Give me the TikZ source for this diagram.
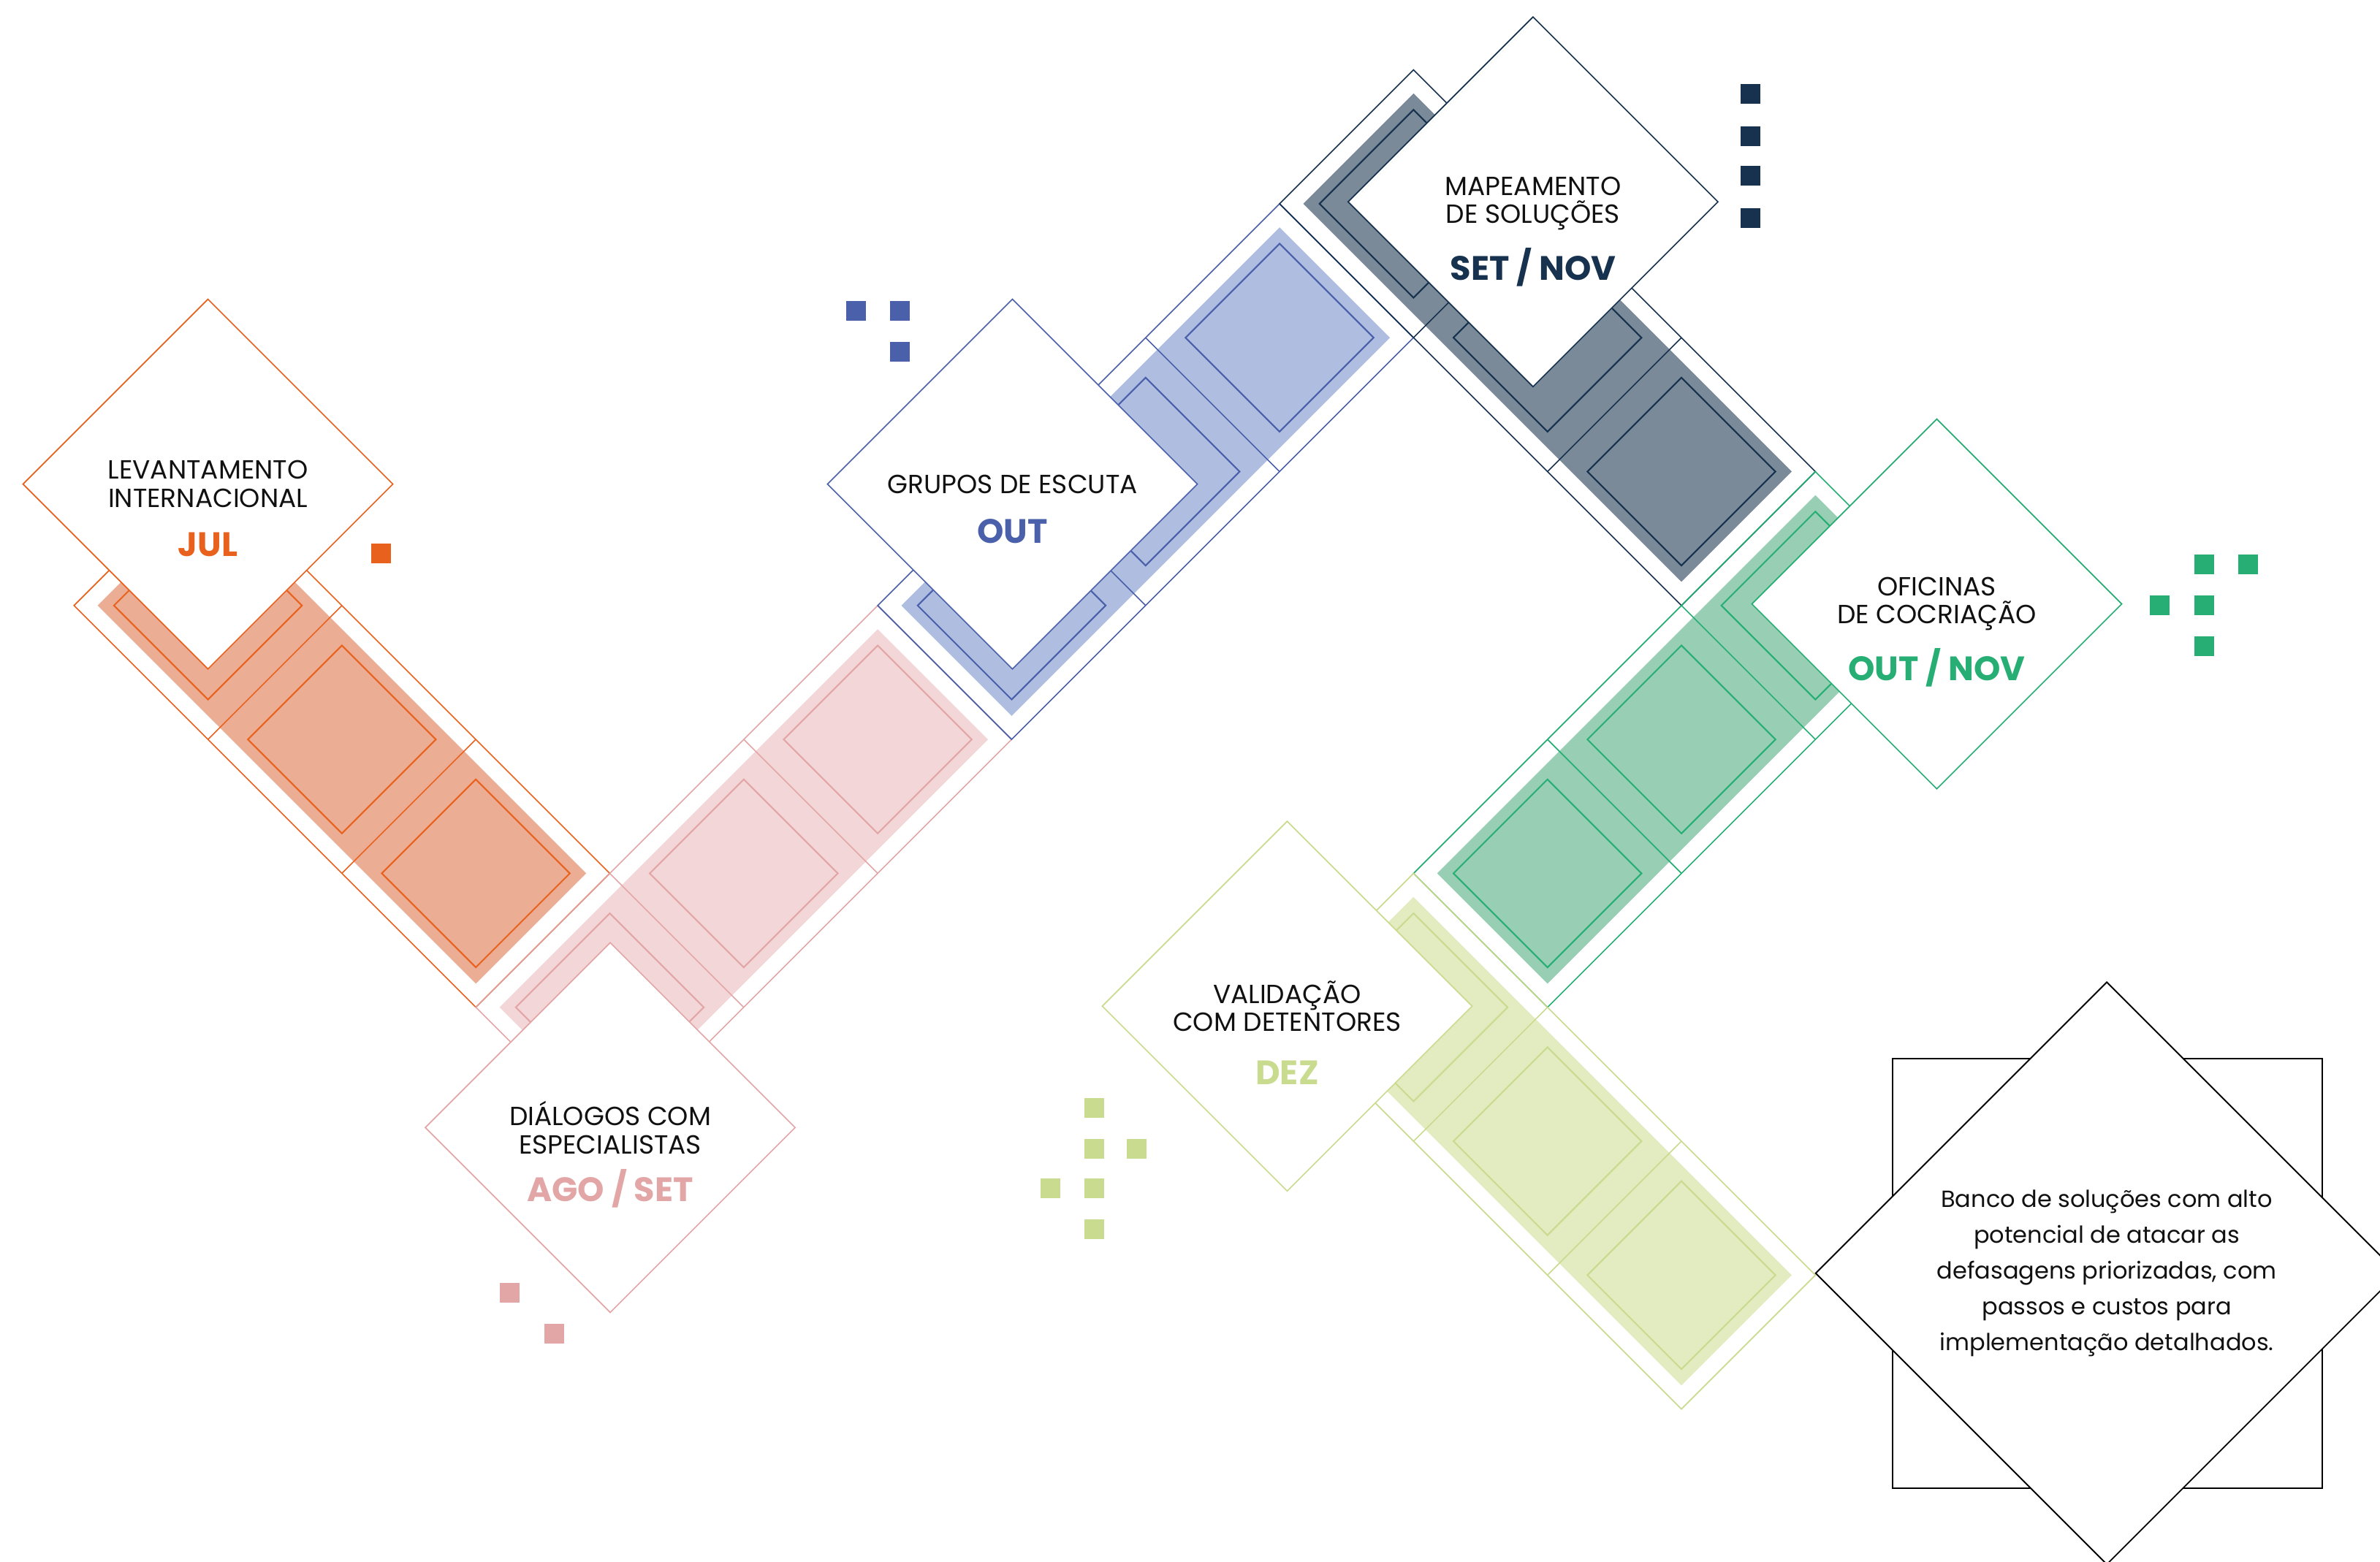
\documentclass[tikz,border=0pt]{standalone}
\usepackage{fontspec}
\setmainfont{Poppins}
\usetikzlibrary{shapes.geometric}

\definecolor{tinta}{HTML}{111111}
\definecolor{laranja}{HTML}{E8621E}
\definecolor{laranjaf}{HTML}{EBAE95}
\definecolor{rosa}{HTML}{E3A6A7}
\definecolor{rosaf}{HTML}{F3D7D8}
\definecolor{azul}{HTML}{4A60AA}
\definecolor{azulf}{HTML}{AEBDE0}
\definecolor{marinho}{HTML}{17324F}
\definecolor{marinhof}{HTML}{7A8A99}
\definecolor{verde}{HTML}{27AE74}
\definecolor{verdef}{HTML}{98CFB4}
\definecolor{lima}{HTML}{C8DB8E}
\definecolor{limaf}{HTML}{E3EBC1}

\newcommand{\meiacel}{62.4}
\newcommand{\meiaint}{43.8}
\newcommand{\recuo}{11}

% faixa de tres celulas: x, y, angulo, cor
\newcommand{\faixa}[4]{%
  \begin{scope}[shift={(#1,-#2)},rotate=#3]
    \fill[#4f] (-\meiacel+\recuo,-\meiacel+\recuo) rectangle (5*\meiacel-\recuo,\meiacel-\recuo);
    \draw[#4,linha] (-\meiacel,-\meiacel) rectangle (5*\meiacel,\meiacel);
    \foreach \k in {1,3}
      \draw[#4,linha] (\k*\meiacel,-\meiacel) -- (\k*\meiacel,\meiacel);
    \foreach \k in {0,2,4}
      \draw[#4,quadro] (\k*\meiacel-\meiaint,-\meiaint) rectangle (\k*\meiacel+\meiaint,\meiaint);
  \end{scope}}

\tikzset{
  linha/.style={line width=0.8pt},
  quadro/.style={line width=1pt},
  fase/.style={diamond, aspect=1, draw=#1, fill=white, line width=0.8pt,
    minimum width=244pt, minimum height=244pt, inner sep=0pt},
  titulo/.style={align=center, text=tinta, font=\fontsize{17.3}{18.5}\selectfont},
  data/.style={text=#1, font=\fontsize{22.3}{24}\selectfont\bfseries},
  meta/.style={diamond, aspect=1, draw=black, fill=white, line width=0.9pt,
    minimum width=384pt, minimum height=384pt, inner sep=0pt, align=center,
    text=tinta, font=\fontsize{15.4}{23.5}\selectfont},
}

\begin{document}
\begin{tikzpicture}[x=1pt,y=1pt]
  \useasboundingbox (0,0) rectangle (1568,-1029);
  \clip (0,0) rectangle (1568,-1029);

  % faixas
  \faixa{137}{399}{-45}{laranja}
  \faixa{401.75}{663.75}{45}{rosa}
  \faixa{666.5}{399}{45}{azul}
  \faixa{931.25}{134.25}{-45}{marinho}
  \faixa{1196}{399}{-135}{verde}
  \faixa{931.25}{663.75}{-45}{lima}

  % losangos
  \node[fase=laranja] (lev) at (137,-319) {};
  \node[titulo] (lev-t) at (lev.center) {LEVANTAMENTO\\INTERNACIONAL};
  \node[data=laranja] (lev-d) at ([yshift=-40pt]lev.center) {JUL};

  \node[fase=rosa] (dia) at (402,-743) {};
  \node[titulo] (dia-t) at (dia.center) {DIÁLOGOS COM\\ESPECIALISTAS};
  \node[data=rosa] (dia-d) at ([yshift=-40pt]dia.center) {AGO / SET};

  \node[fase=azul] (gru) at (667,-319) {};
  \node[titulo] (gru-t) at (gru.center) {GRUPOS DE ESCUTA};
  \node[data=azul] (gru-d) at ([yshift=-31pt]gru.center) {OUT};

  \node[fase=marinho] (map) at (1010,-133) {};
  \node[titulo] (map-t) at ([yshift=-1pt]map.center) {MAPEAMENTO\\DE SOLUÇÕES};
  \node[data=marinho] (map-d) at ([yshift=-43pt]map.center) {SET / NOV};

  \node[fase=verde] (ofi) at (1276,-398) {};
  \node[titulo] (ofi-t) at (ofi.center) {OFICINAS\\DE COCRIAÇÃO};
  \node[data=verde] (ofi-d) at ([yshift=-42pt]ofi.center) {OUT / NOV};

  \node[fase=lima] (val) at (848,-663) {};
  \node[titulo] (val-t) at (val.center) {VALIDAÇÃO\\COM DETENTORES};
  \node[data=lima] (val-d) at ([yshift=-44pt]val.center) {DEZ};

  % quadradinhos
  \fill[laranja] (251-6.5,-364.5-6.5) rectangle ++(13,13);
  \foreach \x/\y in {336/852,365/879}
    \fill[rosa] (\x-6.5,-\y-6.5) rectangle ++(13,13);
  \foreach \x/\y in {564/205,593/205,593/232}
    \fill[azul] (\x-6.5,-\y-6.5) rectangle ++(13,13);
  \foreach \y in {62,90,116,143.5}
    \fill[marinho] (1153-6.5,-\y-6.5) rectangle ++(13,13);
  \foreach \x/\y in {1452/372,1481/372,1423/399,1452/399,1452/426}
    \fill[verde] (\x-6.5,-\y-6.5) rectangle ++(13,13);
  \foreach \x/\y in {721/730,721/757,749/757,692/783,721/783,721/810}
    \fill[lima] (\x-6.5,-\y-6.5) rectangle ++(13,13);

  % resultado
  \node[draw=black, line width=0.9pt, minimum size=283pt, inner sep=0pt] (moldura) at (1388.5,-839) {};
  \node[meta] (banco) at (1388,-839) {Banco de soluções com alto\\potencial de atacar as\\defasagens priorizadas, com\\passos e custos para\\implementação detalhados.};
\end{tikzpicture}
\end{document}
